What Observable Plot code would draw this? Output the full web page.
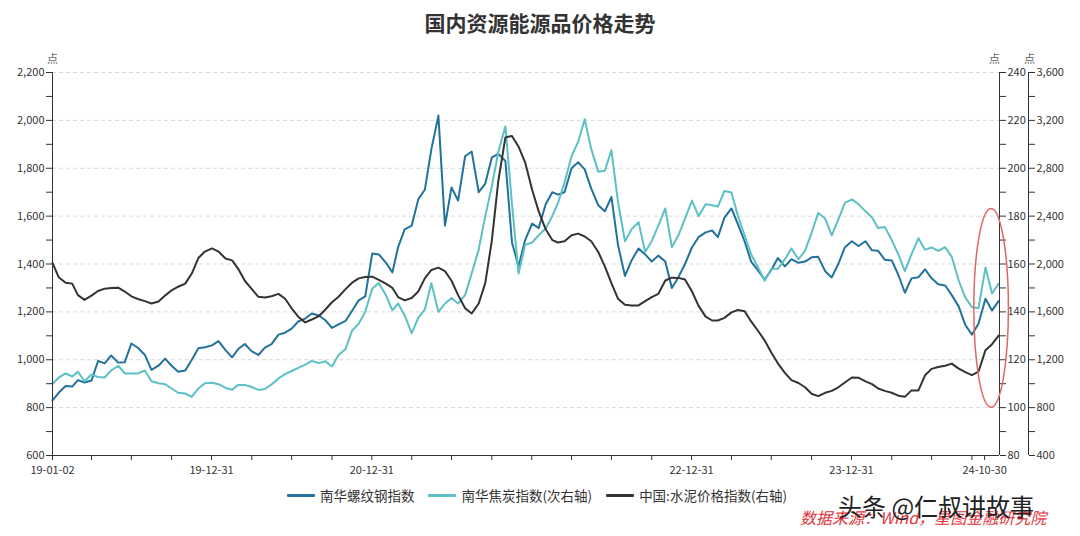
<!DOCTYPE html>
<html><head><meta charset="utf-8">
<script src="https://cdn.jsdelivr.net/npm/d3@7"></script>
<script src="https://cdn.jsdelivr.net/npm/@observablehq/plot@0.6"></script>
<style>
body{margin:0;background:#fff;font-family:"Noto Sans CJK SC","Noto Sans",sans-serif;}
#wrap{position:relative;width:1080px;height:536px;overflow:hidden;}
#title{position:absolute;top:7px;left:0;width:1080px;text-align:center;font-size:21px;font-weight:bold;color:#333;line-height:30px;}
#chart{position:absolute;top:45px;left:0;}
#legend{position:absolute;top:485px;left:0;width:1074px;display:flex;justify-content:center;align-items:center;font-size:13.5px;color:#333;}
.item{display:flex;align-items:center;margin:0 7px;}
.sw{width:28px;height:3px;margin-right:5px;border-radius:1px;}
#src{position:absolute;left:800px;top:505px;font-size:16px;font-style:italic;color:#e2363e;white-space:nowrap;}
#wm{position:absolute;left:838px;top:488px;font-size:24px;color:#222;white-space:nowrap;}
</style></head>
<body><div id="wrap">
<div id="title">国内资源能源品价格走势</div>
<div id="chart"></div>
<div id="legend"></div>
<div id="src">数据来源：Wind，星图金融研究院</div>
<div id="wm">头条 @仁叔讲故事</div>
</div>
<script>
// Series names
const seriesNames = ["南华螺纹钢指数", "南华焦炭指数(次右轴)", "中国:水泥价格指数(右轴)"];
const seriesColors = ["#22729b", "#5cc0c6", "#333333"];

// 南华螺纹钢指数 (left axis), half-monthly samples from 2019-01-02 to 2024-12-01
const steel = [
 830,862,890,888,915,905,913,995,985,1018,
 988,990,1068,1050,1020,958,975,1005,975,950,
 955,1000,1048,1052,1060,1078,1040,1010,1045,1066,
 1035,1020,1051,1065,1105,1113,1130,1160,1172,1193,
 1185,1165,1133,1148,1162,1205,1248,1265,1444,1440,
 1406,1365,1470,1545,1560,1670,1710,1880,2020,1560,
 1720,1665,1850,1870,1700,1736,1845,1860,1830,1490,
 1390,1500,1569,1550,1650,1700,1690,1700,1800,1825,
 1795,1715,1645,1620,1680,1480,1350,1415,1465,1440,
 1410,1435,1410,1300,1345,1400,1470,1512,1532,1540,
 1512,1594,1632,1565,1495,1410,1372,1335,1375,1425,
 1390,1420,1405,1410,1428,1430,1370,1344,1400,1470,
 1495,1475,1495,1457,1455,1418,1415,1355,1280,1340,
 1345,1378,1340,1315,1310,1270,1222,1145,1105,1150,
 1255,1206,1245
];
// 南华焦炭指数 (secondary right axis)
const coke = [
 1000,1050,1086,1060,1100,1020,1076,1056,1052,1110,
 1150,1086,1086,1086,1110,1020,1004,996,960,924,
 918,890,960,1004,1008,996,964,950,990,990,
 972,948,956,994,1044,1080,1106,1132,1160,1190,
 1172,1188,1144,1240,1290,1444,1500,1600,1796,1840,
 1740,1612,1670,1570,1420,1550,1620,1840,1600,1670,
 1716,1670,1740,1920,2120,2400,2650,2940,3150,2500,
 1920,2160,2180,2240,2296,2400,2510,2680,2900,3020,
 3210,2960,2770,2780,2950,2520,2190,2290,2350,2100,
 2190,2320,2464,2140,2240,2380,2530,2400,2500,2490,
 2480,2610,2598,2400,2240,2080,1970,1860,1960,1960,
 2040,2130,2040,2110,2260,2426,2380,2240,2370,2510,
 2540,2500,2440,2388,2300,2310,2200,2080,1940,2080,
 2216,2120,2138,2110,2140,2060,1860,1720,1640,1630,
 1970,1754,1836
];
// 中国:水泥价格指数 (right axis)
const cement = [
 160.5,154.5,152.2,151.8,147,145,146.8,148.7,149.7,150,
 150.1,148.5,146.5,145.4,144.5,143.5,144.3,146.8,149,150.5,
 151.8,156,162.5,165.2,166.5,165.2,162.3,161.5,158,153,
 149.5,146.3,146,146.5,147.5,145.5,141.5,138,135.6,136.8,
 138.2,141,144,146.3,149.5,152.2,154,154.6,154.7,153.4,
 151.8,150,146.2,144.8,145.8,148.5,154,157.5,158.5,157,
 153,147,141.5,139.3,143.5,152,169.8,195,212.9,213.5,
 209,202.5,191,182,174.5,170,169,169.5,172,172.7,
 171.5,169.5,165,159,152,145.5,143,142.7,142.7,144.5,
 146.2,147.5,153.1,154.3,154.2,153.5,148.5,142.5,138,136.4,
 136.4,137.5,139.8,140.8,140.3,136,132,128,123,118.5,
 114.5,111.5,110.3,108.5,105.8,104.8,106.2,107,108.5,110.5,
 112.6,112.5,111,109.8,108,107,106.2,105,104.5,107.2,
 107.2,113.5,116.2,117,117.5,118.4,116.3,114.8,113.6,115,
 124,126.5,130.1
];
// x tick dates and labels
const xTickDates = ["2019-01-02","2019-04-01","2019-07-01","2019-10-01","2019-12-31",
 "2020-04-01","2020-07-01","2020-10-01","2020-12-31","2021-04-01","2021-07-01","2021-10-01","2021-12-31",
 "2022-04-01","2022-07-01","2022-10-01","2022-12-31","2023-04-01","2023-07-01","2023-10-01","2023-12-31",
 "2024-04-01","2024-07-01","2024-10-01","2024-10-30"];
const xTickLabels = {"2019-01-02":"19-01-02","2019-12-31":"19-12-31","2020-12-31":"20-12-31",
 "2022-12-31":"22-12-31","2023-12-31":"23-12-31","2024-10-30":"24-10-30"};
const xDomain = ["2019-01-02","2024-12-03"];
// left axis range and tick step
const leftTicks = d3.range(600, 2201, 100);

// sample dates: 1st and 16th of each month
const months = d3.utcMonth.range(new Date(Date.UTC(2019,0,1)), new Date(Date.UTC(2024,11,2)));
const dates = months.flatMap(m => [m, d3.utcDay.offset(m, 15)]).slice(0, steel.length);
dates[0] = new Date("2019-01-02");

// map secondary units to left axis units
const cokeToL = v => v / 2 + 400;
const cementToL = v => (v - 20) * 10;

const rows = dates.map((d, i) => ({date: d, steel: steel[i], coke: coke[i], cement: cement[i]}));
const d0 = new Date(xDomain[0]), d1 = new Date(xDomain[1]);
const fmt = d3.format(",");
const ff = '"Noto Sans CJK SC","Noto Sans",sans-serif';

const plot = Plot.plot({
  width: 1080, height: 440,
  marginTop: 27, marginBottom: 30, marginLeft: 52, marginRight: 81,
  style: {fontFamily: ff, fontSize: "11px", color: "#333", background: "transparent", overflow: "visible"},
  x: {type: "utc", domain: [d0, d1]},
  y: {domain: [600, 2200]},
  marks: [
    Plot.gridY(d3.range(800, 2201, 200), {stroke: "#d9d9d9", strokeOpacity: 1, strokeDasharray: "4,3"}),
    Plot.line(rows, {x: "date", y: "steel", stroke: seriesColors[0], strokeWidth: 2}),
    Plot.line(rows, {x: "date", y: d => cokeToL(d.coke), stroke: seriesColors[1], strokeWidth: 2}),
    Plot.line(rows, {x: "date", y: d => cementToL(d.cement), stroke: seriesColors[2], strokeWidth: 2}),
    Plot.ruleX([d0], {stroke: "#333"}),
    Plot.ruleX([d1], {stroke: "#333"}),
    Plot.ruleX([d1], {stroke: "#333", dx: 29}),
    Plot.ruleY([600], {stroke: "#333"}),
    Plot.axisY(leftTicks, {anchor: "left", tickSize: 6, tickPadding: 2, stroke: "#333",
      tickFormat: d => d % 200 === 0 ? fmt(d) : "", label: null}),
    Plot.axisY(leftTicks, {anchor: "right", tickSize: 6, tickPadding: 2, stroke: "#333",
      tickFormat: d => d % 200 === 0 ? String(d / 10 + 20) : "", label: null}),
    Plot.axisY(leftTicks, {anchor: "right", dx: 29, tickSize: 6, tickPadding: 2, stroke: "#333",
      tickFormat: d => d % 200 === 0 ? fmt(2 * d - 800) : "", label: null}),
    Plot.axisX(xTickDates.map(s => new Date(s)), {tickSize: 5, tickPadding: 6, stroke: "#333",
      tickFormat: d => xTickLabels[d.toISOString().slice(0,10)] || "", label: null}),
    Plot.text(["点"], {frameAnchor: "top-left", dy: -17, textAnchor: "middle", fill: "#666", fontSize: 11}),
    Plot.text(["点"], {frameAnchor: "top-right", dy: -17, dx: -5, textAnchor: "middle", fill: "#666", fontSize: 11}),
    Plot.text(["点"], {frameAnchor: "top-right", dy: -17, dx: 30, textAnchor: "middle", fill: "#666", fontSize: 11})
  ]
});
document.getElementById("chart").appendChild(plot);

// red annotation ellipse around the latest values
const xs = plot.scale("x"), ys = plot.scale("y");
const eA = new Date("2024-10-06"), eB = new Date("2024-12-24"), eC = new Date("2024-11-15");
const cx = xs.apply(eC), cy = ys.apply(1215);
const rx = (xs.apply(eB) - xs.apply(eA)) / 2, ry = (ys.apply(800) - ys.apply(1630)) / 2;
d3.select(plot).append("ellipse")
  .attr("cx", cx).attr("cy", cy).attr("rx", rx).attr("ry", ry)
  .attr("fill", "none").attr("stroke", "#e06666").attr("stroke-width", 1.5);

// legend
const lg = d3.select("#legend");
seriesNames.forEach((n, i) => {
  const it = lg.append("div").attr("class", "item");
  it.append("div").attr("class", "sw").style("background", seriesColors[i]);
  it.append("span").text(n);
});
</script>
</body></html>
